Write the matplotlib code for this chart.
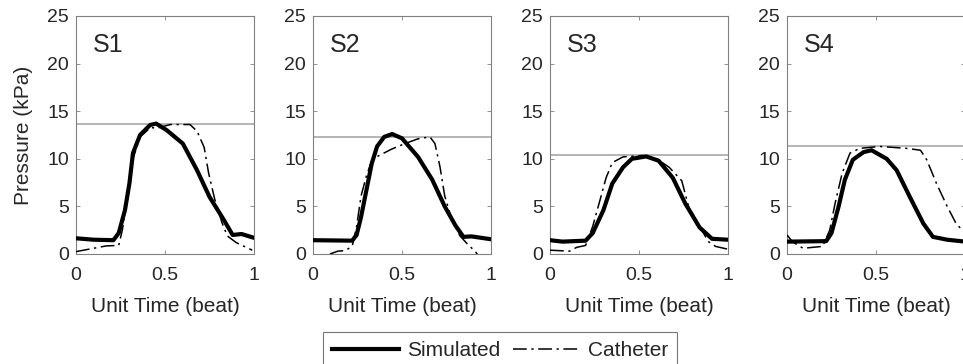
import numpy as np
import matplotlib
matplotlib.use("Agg")
import matplotlib.pyplot as plt

plt.rcParams['font.family'] = ['Liberation Sans', 'DejaVu Sans']

# panel names and the gray reference level (catheter peak) for each
panels = ["S1", "S2", "S3", "S4"]
ref_levels = [13.65, 12.3, 10.4, 11.3]

# simulated pressure (kPa) vs unit time
sim_t = [
    [0, 0.10, 0.21, 0.24, 0.275, 0.30, 0.32, 0.36, 0.416, 0.45, 0.51, 0.60, 0.68, 0.75, 0.83, 0.88, 0.93, 1.0],
    [0, 0.22, 0.245, 0.27, 0.30, 0.33, 0.36, 0.40, 0.445, 0.50, 0.59, 0.67, 0.74, 0.80, 0.845, 0.89, 1.0],
    [0, 0.07, 0.20, 0.24, 0.30, 0.35, 0.41, 0.46, 0.54, 0.61, 0.69, 0.76, 0.84, 0.91, 1.0],
    [0, 0.22, 0.25, 0.29, 0.325, 0.37, 0.43, 0.475, 0.56, 0.616, 0.69, 0.766, 0.82, 0.90, 1.0],
]
sim_p = [
    [1.65, 1.5, 1.45, 2.2, 4.6, 7.4, 10.6, 12.5, 13.55, 13.7, 13.0, 11.6, 8.8, 6.0, 3.6, 2.0, 2.1, 1.7],
    [1.45, 1.4, 2.0, 3.9, 6.7, 9.5, 11.3, 12.3, 12.6, 12.15, 10.2, 7.8, 5.0, 3.0, 1.8, 1.85, 1.55],
    [1.45, 1.3, 1.4, 2.2, 4.6, 7.4, 9.1, 10.0, 10.25, 9.8, 8.0, 5.3, 2.8, 1.6, 1.5],
    [1.3, 1.35, 2.2, 5.0, 7.8, 9.9, 10.7, 10.9, 10.0, 8.8, 6.0, 3.2, 1.8, 1.5, 1.3],
]

# catheter pressure (kPa) vs unit time
cat_t = [
    [0, 0.17, 0.24, 0.26, 0.29, 0.32, 0.36, 0.42, 0.45, 0.53, 0.64, 0.68, 0.72, 0.745, 0.78, 0.82, 0.85, 0.90, 0.99],
    [0.095, 0.14, 0.18, 0.22, 0.245, 0.27, 0.30, 0.33, 0.367, 0.44, 0.517, 0.59, 0.657, 0.685, 0.713, 0.74, 0.78, 0.826, 0.87, 0.91, 0.93],
    [0, 0.11, 0.15, 0.20, 0.24, 0.28, 0.315, 0.35, 0.41, 0.52, 0.60, 0.67, 0.74, 0.78, 0.84, 0.89, 0.93, 1.0],
    [0, 0.03, 0.09, 0.20, 0.24, 0.27, 0.31, 0.354, 0.41, 0.52, 0.67, 0.75, 0.785, 0.84, 0.90, 0.95, 0.985, 1.0],
]
cat_p = [
    [0.25, 0.85, 0.9, 2.5, 6.0, 10.0, 12.3, 13.3, 13.2, 13.6, 13.6, 12.9, 11.2, 8.5, 5.7, 3.3, 1.9, 1.2, 0.4],
    [0.0, 0.3, 0.35, 0.8, 2.9, 6.1, 8.2, 9.8, 10.3, 11.0, 11.6, 12.1, 12.3, 11.6, 9.2, 6.1, 3.6, 1.9, 1.0, 0.3, -0.2],
    [0.4, 0.3, 0.7, 0.9, 2.9, 5.6, 8.0, 9.6, 10.2, 10.35, 10.0, 9.1, 7.7, 4.9, 2.9, 1.3, 0.8, 0.5],
    [2.0, 1.3, 0.6, 0.8, 2.5, 5.3, 8.5, 10.6, 11.1, 11.3, 11.1, 10.9, 9.9, 7.4, 5.0, 3.2, 2.5, 2.2],
]

W, H = 963, 364
fig = plt.figure(figsize=(W / 100, H / 100), dpi=100)

spine_col = '#808080'
txt_col = '#262626'
for i, name in enumerate(panels):
    left = 76 + 237 * i
    ax = fig.add_axes([left / W, 110 / H, 178 / W, 238 / H])
    ax.axhline(ref_levels[i], color='#a0a0a0', lw=1.1, zorder=1)
    sim_line, = ax.plot(sim_t[i], sim_p[i], color='black', lw=3.0, solid_joinstyle='round', zorder=3)
    cat_line, = ax.plot(cat_t[i], cat_p[i], color='black', lw=1.1, ls=(0, (9, 3, 1.5, 3)), zorder=4)
    ax.set_xlim(0, 1)
    ax.set_ylim(0, 25)
    ax.set_xticks([0, 0.5, 1])
    ax.set_xticklabels(['0', '0.5', '1'])
    ax.set_yticks([0, 5, 10, 15, 20, 25])
    ax.tick_params(direction='in', length=3, width=0.6, color=spine_col, labelsize=14,
                   labelcolor=txt_col, top=True, right=True)
    ax.tick_params(axis='x', pad=9)
    ax.tick_params(axis='y', pad=5)
    for s in ax.spines.values():
        s.set_color(spine_col)
        s.set_linewidth(0.8)
    ax.set_xlabel('Unit Time (beat)', fontsize=15, color=txt_col, labelpad=10)
    if i == 0:
        ax.set_ylabel('Pressure (kPa)', fontsize=15, color=txt_col, labelpad=10)
    ax.text(0.095, 22, name, fontsize=18, color=txt_col, va='center', ha='left')

leg = fig.legend([sim_line, cat_line], ['Simulated', 'Catheter'], loc='upper center',
                 bbox_to_anchor=(500 / W, 1 - 332 / H), ncol=2, fontsize=15,
                 frameon=True, fancybox=False, handlelength=3.2, handletextpad=0.4,
                 columnspacing=0.6, borderpad=0.45, borderaxespad=0)
leg.get_frame().set_edgecolor('#555555')
leg.get_frame().set_linewidth(0.8)
for t in leg.get_texts():
    t.set_color(txt_col)

fig.savefig('out.png', dpi=100)
